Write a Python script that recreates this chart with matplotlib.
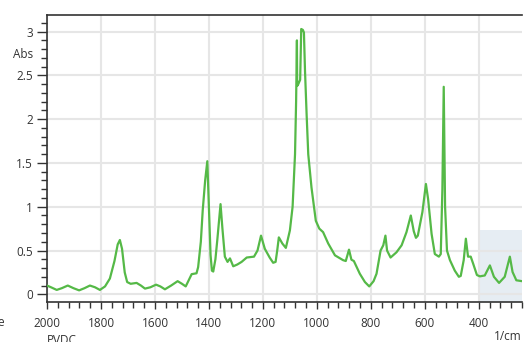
import numpy as np
import matplotlib.pyplot as plt
from matplotlib.ticker import MultipleLocator, FuncFormatter

# PVDC infrared spectrum (wavenumber in 1/cm, absorbance)
wavenumber = [2000, 1985, 1964, 1945, 1923, 1902, 1881, 1861, 1841, 1822,
              1804, 1785, 1767, 1750, 1738, 1730, 1722, 1712, 1703, 1690,
              1668, 1652, 1637, 1617, 1596, 1580, 1563, 1540, 1516, 1500,
              1486, 1464, 1446, 1440, 1430, 1423, 1414, 1406, 1400, 1394,
              1389, 1384, 1376, 1369, 1357, 1350, 1341, 1331, 1322, 1310,
              1295, 1279, 1260, 1233, 1220, 1207, 1193, 1175, 1162, 1153,
              1147, 1141, 1128, 1115, 1100, 1090, 1081, 1077, 1074, 1073,
              1069, 1062, 1058, 1052, 1048, 1044, 1038, 1032, 1020, 1004,
              991, 977, 958, 933, 903, 893, 881, 872, 863, 841,
              822, 806, 790, 779, 764, 754, 746, 740, 727, 705,
              686, 668, 652, 641, 633, 626, 609, 596, 588, 575,
              563, 548, 541, 535, 530, 525, 518, 507, 489, 474,
              467, 456, 448, 440, 430, 421, 407, 396, 378, 359,
              344, 325, 304, 285, 275, 261, 240]
absorbance = [0.10, 0.08, 0.05, 0.07, 0.10, 0.07, 0.045, 0.07, 0.10, 0.08,
              0.05, 0.09, 0.18, 0.38, 0.57, 0.62, 0.52, 0.25, 0.14, 0.12,
              0.13, 0.10, 0.065, 0.08, 0.11, 0.09, 0.057, 0.10, 0.15, 0.12,
              0.09, 0.23, 0.24, 0.31, 0.60, 0.96, 1.30, 1.52, 1.00, 0.45,
              0.27, 0.26, 0.40, 0.62, 1.03, 0.75, 0.43, 0.37, 0.41, 0.32,
              0.34, 0.37, 0.42, 0.43, 0.50, 0.67, 0.52, 0.42, 0.36, 0.37,
              0.50, 0.65, 0.58, 0.53, 0.73, 1.00, 1.60, 2.20, 2.90, 2.38,
              2.40, 2.45, 3.03, 3.02, 2.99, 2.55, 2.05, 1.60, 1.22, 0.84,
              0.75, 0.71, 0.58, 0.445, 0.39, 0.38, 0.51, 0.395, 0.38, 0.235,
              0.14, 0.09, 0.15, 0.235, 0.50, 0.56, 0.67, 0.50, 0.42, 0.48,
              0.56, 0.71, 0.90, 0.72, 0.645, 0.67, 0.94, 1.26, 1.09, 0.69,
              0.46, 0.43, 0.46, 1.20, 2.37, 1.00, 0.50, 0.39, 0.27, 0.20,
              0.21, 0.39, 0.635, 0.43, 0.43, 0.35, 0.22, 0.205, 0.215, 0.33,
              0.20, 0.13, 0.20, 0.43, 0.255, 0.16, 0.15]

# highlighted window in the low-wavenumber region
zoom_x = [400, 240]
zoom_top = 0.74

plt.rcParams['font.family'] = ['Open Sans', 'DejaVu Sans']
txt = '#333333'

fig = plt.figure(figsize=(5.24, 3.42), dpi=100)
ax = fig.add_axes([47/524, 40/342, 475/524, 287/342])

ymin, ymax = -0.088, 3.19
ax.set_xlim(2000, 240)
ax.set_ylim(ymin, ymax)

ax.axvspan(zoom_x[0], zoom_x[1], ymin=0, ymax=(zoom_top - ymin) / (ymax - ymin),
           color='#e6edf3', zorder=0.4, lw=0)
ax.plot(wavenumber, absorbance, color='#55b947', lw=1.6, zorder=3)

ax.xaxis.set_major_locator(MultipleLocator(200))
ax.xaxis.set_minor_locator(MultipleLocator(40))
ax.yaxis.set_major_locator(MultipleLocator(0.5))
ax.yaxis.set_minor_locator(MultipleLocator(0.1))
ax.yaxis.set_major_formatter(FuncFormatter(lambda v, p: f'{v:g}'))

ax.grid(True, which='major', color='#e6e6e6', lw=1.5)
ax.set_axisbelow(True)

ax.tick_params(which='major', direction='out', length=7, width=1,
               color='#333333', labelcolor=txt, labelsize=8.5, pad=3)
ax.tick_params(which='minor', direction='out', length=4, width=1, color='#333333')
ax.tick_params(axis='x', which='major', length=5, pad=6)
ax.tick_params(axis='x', which='minor', length=4)

for side in ['left', 'top', 'bottom']:
    ax.spines[side].set_color('#333333')
    ax.spines[side].set_linewidth(1.2)
ax.spines['right'].set_visible(False)

fig.text(33/524, 1 - 55/342, 'Abs', ha='right', va='center', fontsize=8.5, color=txt)
fig.text(522/524, 1 - 336/342, '1/cm', ha='right', va='center', fontsize=8.5, color=txt)
fig.text(47/524, 1 - 341/342, 'PVDC', ha='left', va='center', fontsize=8.5, color=txt)
fig.text(-3/524, 1 - 322/342, 'e', ha='left', va='center', fontsize=8.5, color=txt)

fig.savefig('out.png', dpi=100)
